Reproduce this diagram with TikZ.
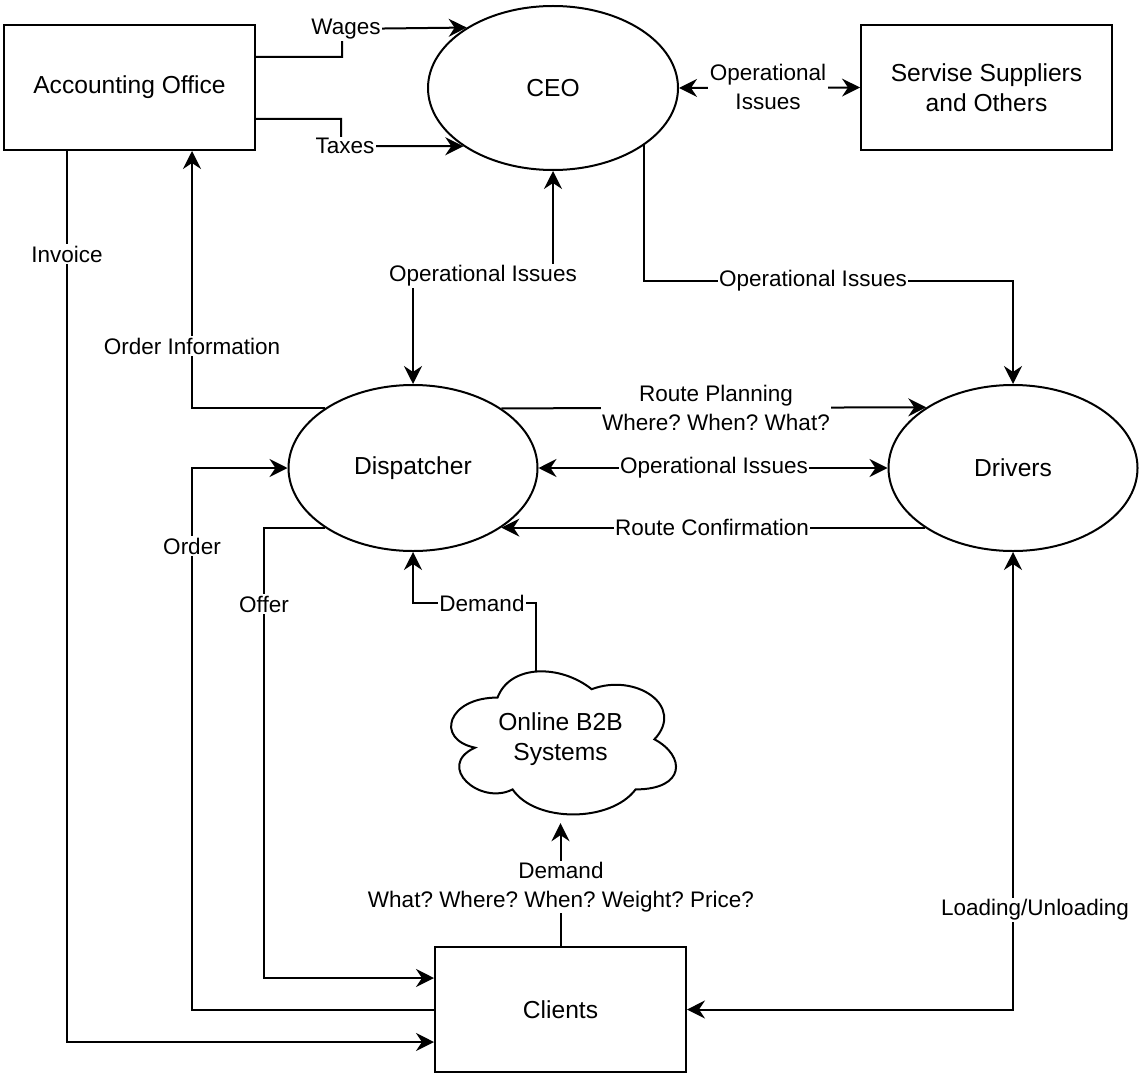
\documentclass[tikz,border=0pt]{standalone}
\usepackage{fontspec}
\setmainfont{Liberation Sans}
\usetikzlibrary{arrows.meta,shapes.geometric,calc}
\frenchspacing
\begin{document}
\begin{tikzpicture}[x=1pt,y=-1pt,
  tip/.tip={Stealth[length=18pt,width=18pt,inset=6pt]},
  box/.style={draw, line width=2pt, minimum width=251pt, minimum height=125pt,
    inner sep=0pt, font=\fontsize{24.6}{30}\selectfont, align=center},
  oval/.style={draw, ellipse, line width=2pt, inner sep=0pt,
    font=\fontsize{24.6}{30}\selectfont, align=center},
  lbl/.style={fill=white, inner sep=1.5pt, font=\fontsize{22.5}{29}\selectfont, align=center},
  flow/.style={line width=2pt, -tip},
  biflow/.style={line width=2pt, tip-tip},
]
\useasboundingbox (0,0) rectangle (1139,1075);

% entities
\node[box] (AO) at (129.5,87.5) {Accounting Office};
\node[oval, minimum width=250pt, minimum height=164pt] (CEO) at (553,88) {CEO};
\node[box] (SS) at (986.5,87.5) {Servise Suppliers\\and Others};
\node[oval, minimum width=249pt, minimum height=166pt] (Disp) at (413,468) {Dispatcher};
\node[oval, minimum width=249pt, minimum height=166pt] (Drv) at (1013,468) {Drivers};
\node[box] (Clients) at (560.5,1009.5) {Clients};
\node[minimum width=251pt, minimum height=167pt, inner sep=0pt,
  font=\fontsize{24.6}{30}\selectfont, align=center] (cloud) at (560.5,739.5) {Online B2B\\Systems};

% cloud outline
\begin{scope}[shift={(cloud.north west)}, x=251pt, y=-167pt]
  \draw[line width=2pt] (0.25,0.25)
    .. controls (0.05,0.25) and (0,0.5) .. (0.16,0.55)
    .. controls (0,0.66) and (0.18,0.9) .. (0.31,0.8)
    .. controls (0.4,1) and (0.7,1) .. (0.8,0.8)
    .. controls (1,0.8) and (1,0.6) .. (0.875,0.5)
    .. controls (1,0.3) and (0.8,0.1) .. (0.625,0.2)
    .. controls (0.5,0.05) and (0.3,0.05) .. (0.25,0.25) -- cycle;
\end{scope}
\coordinate (cloudtop) at (536,672);

% connectors
\draw[flow] (AO.east |- 0,57) -| (342,29) -- (CEO.145.8);
\draw[flow] (AO.east |- 0,119) -| (341,146) -- (CEO.213.3);
\draw[biflow] (CEO.east) -- (SS.west);
\draw[flow] (AO.south -| 67,0) |- (Clients.west |- 0,1042);
\draw[flow] (Disp.146) -| (AO.south -| 192,0);
\draw[biflow] (Disp.north) -- (Disp.north |- 0,276) -| (CEO.south);
\draw[flow] (CEO.-32.9) -- (CEO.-32.9 |- 0,281) -| (Drv.north);
\draw[flow] (Disp.34.9) -- (Drv.145.1);
\draw[biflow] (Disp.east) -- (Drv.west);
\draw[flow] (Drv.214) -- (Disp.-34);
\draw[flow] (Clients.west) -- (Clients.west -| 192,0) |- (Disp.west);
\draw[flow] (Disp.214) -- (Disp.214 -| 264,0) |- (Clients.west |- 0,978);
\draw[flow] (cloudtop) -- (cloudtop |- 0,603) -| (Disp.south);
\draw[flow] (Clients.north) -- (cloud.south);
\draw[biflow] (Clients.east) -| (Drv.south);

% connector labels
\node[lbl] (lWages) at (346,29) {Wages};
\node[lbl] (lTaxes) at (345,146) {Taxes};
\node[lbl] (lSupp) at (768,87) {Operational\\Issues};
\node[lbl] (lInv) at (67,254) {Invoice};
\node[lbl] (lOInfo) at (192,346) {Order Information};
\node[lbl] (lCeoDisp) at (483,276) {Operational Issues};
\node[lbl] (lCeoDrv) at (813,281) {Operational Issues};
\node[lbl] (lRoute) at (716,408) {Route Planning\\Where? When? What?};
\node[lbl] (lDispDrv) at (714,468) {Operational Issues};
\node[lbl] (lConf) at (712,527) {Route Confirmation};
\node[lbl] (lOrder) at (192,546) {Order};
\node[lbl] (lOffer) at (264,604) {Offer};
\node[lbl] (lDem) at (482,603) {Demand};
\node[lbl] (lDemand) at (561,887) {Demand\\What? Where? When? Weight? Price?};
\node[lbl] (lLoad) at (1035,910) {Loading/Unloading};
\end{tikzpicture}
\end{document}
